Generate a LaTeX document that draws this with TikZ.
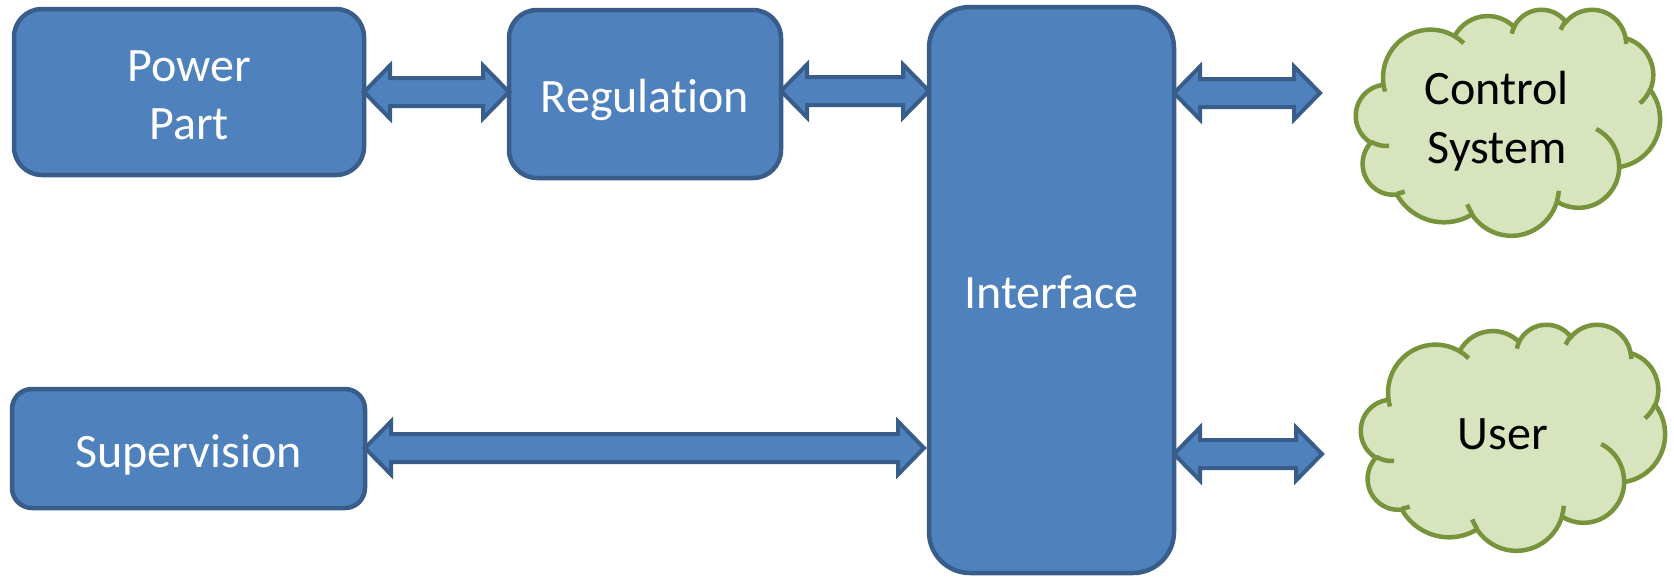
\documentclass[tikz,border=0pt]{standalone}
\usepackage{fontspec}
\setmainfont[Ligatures=NoCommon]{Carlito}
\usetikzlibrary{calc}

\definecolor{boxfill}{HTML}{4F81BD}
\definecolor{boxline}{HTML}{385D8A}
\definecolor{cloudfill}{HTML}{D7E4BD}
\definecolor{cloudline}{HTML}{77933C}

% Elliptic arc given by radii, start angle and sweep measured as visual
% angles (ray from the centre), as in DrawingML preset geometry.
\newcommand\cldarc[4]{\pgfextra{%
  \pgfmathsetmacro\cldS{atan2(#1*sin(#3),#2*cos(#3))}%
  \pgfmathsetmacro\cldE{atan2(#1*sin(#3+#4),#2*cos(#3+#4))}%
  \pgfmathsetmacro\cldD{\cldE-\cldS}%
  \ifdim\cldD pt<0pt \pgfmathsetmacro\cldD{\cldD+360}\fi}%
  arc[start angle=\cldS, delta angle=\cldD, x radius=#1, y radius=#2]}

% Cloud outline in a 43.2 x 43.2 box, placed with its top-left corner at (#1,#2)
\newcommand\drawcloud[2]{%
  \begin{scope}[shift={(#1,#2)}, x=7.037pt, y=-5.2315pt]
    \filldraw[cloudbody] (3.900,14.370)
      \cldarc{6.753}{9.190}{-190.48748}{123.78053}
      \cldarc{5.333}{7.267}{-144.10238}{89.94523}
      \cldarc{4.365}{5.945}{-145.80792}{99.72302}
      \cldarc{4.857}{6.595}{-130.98607}{117.24173}
      \cldarc{5.333}{7.273}{-78.70888}{109.02692}
      \cldarc{6.775}{9.220}{-46.26725}{130.26900}
      \cldarc{5.785}{7.867}{0.62502}{114.03333}
      \cldarc{6.752}{9.215}{22.45160}{115.17255}
      \cldarc{7.720}{10.543}{66.24263}{75.71102}
      \cldarc{4.360}{5.918}{-274.94208}{146.73557}
      \cldarc{4.345}{5.945}{-246.82850}{152.51885}
      -- cycle;
    \draw[cloudedge]
      (4.693,26.177)  \cldarc{4.345}{5.945}{86.74200}{26.42950}
      (6.928,34.899)  \cldarc{4.360}{5.918}{73.61047}{11.44747}
      (16.478,39.090) \cldarc{6.752}{9.215}{137.62415}{14.08110}
      (28.827,34.751) \cldarc{6.752}{9.215}{6.45327}{15.99835}
      (34.129,22.954) \cldarc{5.785}{7.867}{-70.29235}{70.91737}
      (41.798,15.354) \cldarc{5.333}{7.273}{30.31803}{27.75150}
      (38.324,5.426)  \cldarc{4.857}{6.595}{-13.74433}{14.85530}
      (29.078,3.952)  \cldarc{4.857}{6.595}{-149.18145}{18.18773}
      (22.141,4.720)  \cldarc{4.365}{5.945}{-163.49427}{17.68810}
      (14.000,5.192)  \cldarc{6.753}{9.190}{-66.70695}{12.31935}
      (4.127,15.789)  \cldarc{6.753}{9.190}{157.65435}{11.85817};
  \end{scope}}

% Left-right block arrow between two tip points
\newcommand\dblarrow[2]{%
  \draw[blockarrow] (#1) -- ++(26,-26.5) -- ++(0,12.5)
    -- ($(#2)+(-26,-14)$) -- ++(0,-12.5) -- (#2) -- ++(-26,26.5)
    -- ++(0,-12.5) -- ($(#1)+(26,14)$) -- ++(0,12.5) -- cycle;}

\tikzset{
  labelfont/.style={font=\fontsize{48}{58.5}\selectfont},
  box/.style={draw=boxline, fill=boxfill, line width=4.5pt, text=white,
    labelfont, align=center, outer sep=0pt, inner sep=0pt},
  oneline/.style={text height=37pt, text depth=0pt},
  blockarrow/.style={draw=boxline, fill=boxfill, line width=4pt},
  cloudbody/.style={draw=cloudline, fill=cloudfill, line width=4.5pt},
  cloudedge/.style={draw=cloudline, line width=4.5pt},
  cloudtext/.style={text=black, labelfont, align=center, inner sep=0pt}
}

\begin{document}
\begin{tikzpicture}[x=1pt, y=-1pt]
  \useasboundingbox (0,0) rectangle (1674,576);

  % blocks
  \node[box, rounded corners=28pt, minimum width=350pt, minimum height=166pt]
    (pp) at (189,92) {\rule{0pt}{37pt}Power\\Part};
  \node[box, oneline, rounded corners=28pt, minimum width=272pt, minimum height=168pt]
    (reg) at (645,94) {Regulation};
  \node[box, oneline, rounded corners=20pt, minimum width=353pt, minimum height=119pt]
    (sup) at (188.5,448.5) {Supervision};
  \node[box, oneline, rounded corners=41pt, minimum width=245pt, minimum height=566pt]
    (itf) at (1051.5,290) {Interface};

  % clouds
  \drawcloud{1356}{9}
  \drawcloud{1361}{324}
  \node[cloudtext] (cs) at (1497,121) {Control\\System};
  \node[cloudtext, oneline] (us) at (1503,431) {User};

  % arrow end points
  \coordinate (pr1) at (pp.east |- 0,92);
  \coordinate (pr2) at (reg.west |- 0,92);
  \coordinate (ri1) at (reg.east |- 0,91);
  \coordinate (ri2) at (itf.west |- 0,91);
  \coordinate (si1) at (sup.east |- 0,448);
  \coordinate (si2) at ($(itf.west |- 0,448)+(-5,0)$);
  \coordinate (ic1) at (itf.east |- 0,93);
  \coordinate (ic2) at (1320,93);
  \coordinate (iu1) at (itf.east |- 0,454);
  \coordinate (iu2) at (1322,454);

  % connections
  \dblarrow{pr1}{pr2}
  \dblarrow{ri1}{ri2}
  \dblarrow{si1}{si2}
  \dblarrow{ic1}{ic2}
  \dblarrow{iu1}{iu2}
\end{tikzpicture}
\end{document}
